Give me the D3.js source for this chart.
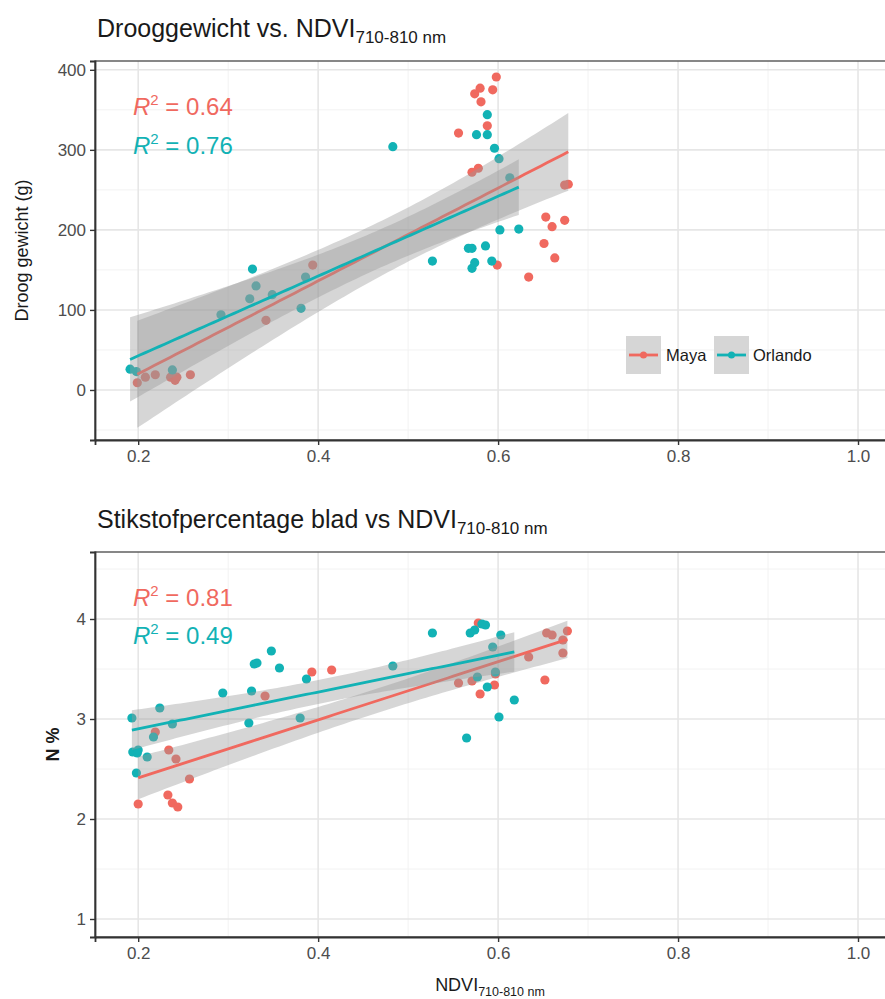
<!DOCTYPE html>
<html>
<head>
<meta charset="utf-8">
<script src="https://cdn.jsdelivr.net/npm/d3@7"></script>
<style>
  body { margin: 0; background: #fff; }
  svg { display: block; font-family: "Liberation Sans", Arial, sans-serif; }
</style>
</head>
<body>
<svg id="chart" width="885" height="999"></svg>
<script>
// values: [NDVI, value]
const mayaDry = [
  [0.199, 9], [0.208, 16], [0.219, 19], [0.236, 16], [0.241, 12], [0.243, 16], [0.258, 19],
  [0.342, 87], [0.394, 156],
  [0.556, 321], [0.571, 272], [0.574, 370], [0.578, 277], [0.580, 377], [0.581, 360], [0.588, 330],
  [0.594, 375], [0.598, 391], [0.599, 156], [0.634, 141], [0.651, 183], [0.653, 216], [0.660, 204],
  [0.663, 165], [0.674, 212], [0.674, 256], [0.678, 257]
];
const orlandoDry = [
  [0.191, 26], [0.198, 23], [0.238, 25],
  [0.292, 94], [0.324, 114], [0.327, 151], [0.331, 130], [0.349, 119], [0.381, 102], [0.386, 141],
  [0.483, 304], [0.527, 161],
  [0.567, 177], [0.571, 152], [0.571, 177], [0.574, 159], [0.576, 319], [0.586, 180], [0.588, 319],
  [0.588, 344], [0.593, 161], [0.596, 302], [0.601, 289], [0.602, 200], [0.613, 265], [0.623, 201]
];
const mayaN = [
  [0.200, 2.15], [0.219, 2.87], [0.233, 2.24], [0.234, 2.69], [0.238, 2.16], [0.242, 2.60],
  [0.244, 2.12], [0.257, 2.40],
  [0.341, 3.23], [0.393, 3.47], [0.415, 3.49],
  [0.556, 3.36], [0.571, 3.38], [0.578, 3.96], [0.580, 3.25], [0.596, 3.34], [0.597, 3.45],
  [0.634, 3.62], [0.652, 3.39], [0.654, 3.86], [0.660, 3.84], [0.672, 3.66], [0.672, 3.79], [0.677, 3.88]
];
const orlandoN = [
  [0.193, 3.01], [0.194, 2.67], [0.198, 2.46], [0.199, 2.66], [0.200, 2.69], [0.210, 2.62],
  [0.217, 2.82], [0.224, 3.11], [0.238, 2.95],
  [0.294, 3.26], [0.323, 2.96], [0.326, 3.28], [0.329, 3.55], [0.332, 3.56], [0.348, 3.68],
  [0.357, 3.51], [0.380, 3.01], [0.387, 3.40], [0.483, 3.53], [0.527, 3.86],
  [0.565, 2.81], [0.569, 3.86], [0.574, 3.89], [0.577, 3.42], [0.582, 3.95], [0.586, 3.94],
  [0.588, 3.32], [0.594, 3.72], [0.597, 3.47], [0.601, 3.02], [0.603, 3.84], [0.618, 3.19]
];

const cultivars = ['Maya', 'Orlando'];
const xTicks = [0.2, 0.4, 0.6, 0.8, 1.0];
const xMinor = [0.3, 0.5, 0.7, 0.9];
const dryTicks = [0, 100, 200, 300, 400];
const dryMinor = [-50, 50, 150, 250, 350];
const nTicks = [1, 2, 3, 4];
const nMinor = [1.5, 2.5, 3.5, 4.5];
const dryR2 = ['0.64', '0.76'];
const nR2 = ['0.81', '0.49'];

const colour = d3.scaleOrdinal().domain(cultivars).range(['#F0695F', '#12B2B5']);

const svg = d3.select('#chart');
const left = 95, right = 894;
const x = d3.scaleLinear().domain([0.152, 1.04]).range([left, right]);

// ordinary least squares with 95% confidence band, like geom_smooth(method = lm)
function tQuantile(df) {
  const z = 1.959964;
  return z + (z ** 3 + z) / (4 * df) + (5 * z ** 5 + 16 * z ** 3 + 3 * z) / (96 * df * df);
}
function lmFit(pts) {
  const n = pts.length;
  const mx = d3.mean(pts, d => d[0]), my = d3.mean(pts, d => d[1]);
  let sxx = 0, sxy = 0;
  pts.forEach(d => { sxx += (d[0] - mx) ** 2; sxy += (d[0] - mx) * (d[1] - my); });
  const b = sxy / sxx, a = my - b * mx;
  let sse = 0;
  pts.forEach(d => { sse += (d[1] - a - b * d[0]) ** 2; });
  const s = Math.sqrt(sse / (n - 2));
  const t = tQuantile(n - 2);
  const [x0, x1] = d3.extent(pts, d => d[0]);
  return d3.range(80).map(i => {
    const xv = x0 + (x1 - x0) * i / 79;
    const yh = a + b * xv;
    const se = s * Math.sqrt(1 / n + (xv - mx) ** 2 / sxx);
    return { x: xv, y: yh, lo: yh - t * se, hi: yh + t * se };
  });
}

function drawPanel(p) {
  const y = d3.scaleLinear().domain(p.yDomain).range([p.bottom, p.top]);
  const g = svg.append('g');

  // title with subscript
  const title = g.append('text').attr('x', 97).attr('y', p.titleY)
    .attr('font-size', 25).attr('fill', '#1a1a1a');
  title.append('tspan').text(p.title);
  title.append('tspan').attr('dy', 6).attr('font-size', 17).text('710-810 nm');

  // grid
  const grid = g.append('g');
  grid.selectAll('.xmin').data(xMinor).join('line')
    .attr('x1', d => x(d)).attr('x2', d => x(d)).attr('y1', p.top).attr('y2', p.bottom)
    .attr('stroke', '#F2F2F2').attr('stroke-width', 1);
  grid.selectAll('.ymin').data(p.yMinor).join('line')
    .attr('x1', left).attr('x2', right).attr('y1', d => y(d)).attr('y2', d => y(d))
    .attr('stroke', '#F2F2F2').attr('stroke-width', 1);
  grid.selectAll('.xmaj').data(xTicks).join('line')
    .attr('x1', d => x(d)).attr('x2', d => x(d)).attr('y1', p.top).attr('y2', p.bottom)
    .attr('stroke', '#E6E6E6').attr('stroke-width', 1.6);
  grid.selectAll('.ymaj').data(p.yTicks).join('line')
    .attr('x1', left).attr('x2', right).attr('y1', d => y(d)).attr('y2', d => y(d))
    .attr('stroke', '#E6E6E6').attr('stroke-width', 1.6);

  const clipId = 'clip' + p.top;
  g.append('clipPath').attr('id', clipId).append('rect')
    .attr('x', left).attr('y', p.top).attr('width', right - left).attr('height', p.bottom - p.top);
  const plot = g.append('g').attr('clip-path', `url(#${clipId})`);

  // points
  p.series.forEach((pts, i) => {
    plot.append('g').selectAll('circle').data(pts).join('circle')
      .attr('cx', d => x(d[0])).attr('cy', d => y(d[1])).attr('r', 4.6)
      .attr('fill', colour(cultivars[i]));
  });

  // smooth: ribbon then line for each cultivar
  p.series.forEach((pts, i) => {
    const fit = lmFit(pts);
    plot.append('path').datum(fit)
      .attr('d', d3.area().x(d => x(d.x)).y0(d => y(d.lo)).y1(d => y(d.hi)))
      .attr('fill', '#999999').attr('fill-opacity', 0.4);
    plot.append('path').datum(fit)
      .attr('d', d3.line().x(d => x(d.x)).y(d => y(d.y)))
      .attr('fill', 'none').attr('stroke', colour(cultivars[i])).attr('stroke-width', 2.8);
  });

  // border and axes
  g.append('rect').attr('x', left).attr('y', p.top).attr('width', right - left).attr('height', p.bottom - p.top)
    .attr('fill', 'none').attr('stroke', '#555').attr('stroke-width', 1.4);
  const xa = g.append('g').attr('transform', `translate(0,${p.bottom})`)
    .call(d3.axisBottom(x).tickValues(xTicks).tickFormat(d3.format('.1f')).tickSize(5).tickPadding(5));
  const ya = g.append('g').attr('transform', `translate(${left},0)`)
    .call(d3.axisLeft(y).tickValues(p.yTicks).tickFormat(d3.format('d')).tickSize(5).tickPadding(4));
  [xa, ya].forEach(a => {
    a.select('.domain').attr('stroke', '#333').attr('stroke-width', 1.8);
    a.selectAll('.tick line').attr('stroke', '#333').attr('stroke-width', 1.4);
    a.selectAll('.tick text').attr('font-size', 17).attr('fill', '#4D4D4D')
      .attr('font-family', '"Liberation Sans", Arial, sans-serif');
  });

  // y title
  g.append('text').attr('transform', `translate(${p.yLabelX},${(p.top + p.bottom) / 2}) rotate(-90)`)
    .attr('text-anchor', 'middle').attr('font-size', p.yLabelSize).attr('font-weight', p.yLabelWeight)
    .attr('fill', '#1a1a1a').text(p.yLabel);

  // R squared labels
  p.r2.forEach((v, i) => {
    const t = g.append('text').attr('x', 133).attr('y', p.r2Y[i]).attr('font-size', 24)
      .attr('fill', colour(cultivars[i]));
    t.append('tspan').attr('font-style', 'italic').text('R');
    t.append('tspan').attr('dy', -10).attr('font-size', 15).text('2');
    t.append('tspan').attr('dy', 10).text(' = ' + v);
  });

  if (p.legend) {
    const lg = g.append('g');
    const keyX = [626, 714], labX = [666, 753];
    cultivars.forEach((c, i) => {
      lg.append('rect').attr('x', keyX[i]).attr('y', 336).attr('width', 35).attr('height', 38)
        .attr('fill', '#D6D6D6');
      lg.append('line').attr('x1', keyX[i] + 3).attr('x2', keyX[i] + 32).attr('y1', 355).attr('y2', 355)
        .attr('stroke', colour(c)).attr('stroke-width', 2.8);
      lg.append('circle').attr('cx', keyX[i] + 17.5).attr('cy', 355).attr('r', 3.5).attr('fill', colour(c));
      lg.append('text').attr('x', labX[i]).attr('y', 361).attr('font-size', 16.5)
        .attr('fill', '#1a1a1a').text(c);
    });
  }

  if (p.xTitle) {
    const xt = g.append('text').attr('x', 490).attr('y', 991).attr('text-anchor', 'middle')
      .attr('font-size', 18).attr('fill', '#1a1a1a');
    xt.append('tspan').text('NDVI');
    xt.append('tspan').attr('dy', 5).attr('font-size', 12.5).text('710-810 nm');
  }
}

drawPanel({
  top: 61, bottom: 440, yDomain: [-62.5, 411], yTicks: dryTicks, yMinor: dryMinor,
  title: 'Drooggewicht vs. NDVI', titleY: 37,
  yLabel: 'Droog gewicht (g)', yLabelX: 28, yLabelSize: 18, yLabelWeight: 'normal',
  series: [mayaDry, orlandoDry], r2: dryR2, r2Y: [115, 154], legend: true, xTitle: false
});
drawPanel({
  top: 552, bottom: 937, yDomain: [0.82, 4.67], yTicks: nTicks, yMinor: nMinor,
  title: 'Stikstofpercentage blad vs NDVI', titleY: 528,
  yLabel: 'N %', yLabelX: 59, yLabelSize: 18, yLabelWeight: 'bold',
  series: [mayaN, orlandoN], r2: nR2, r2Y: [606, 644], legend: false, xTitle: true
});
</script>
</body>
</html>
